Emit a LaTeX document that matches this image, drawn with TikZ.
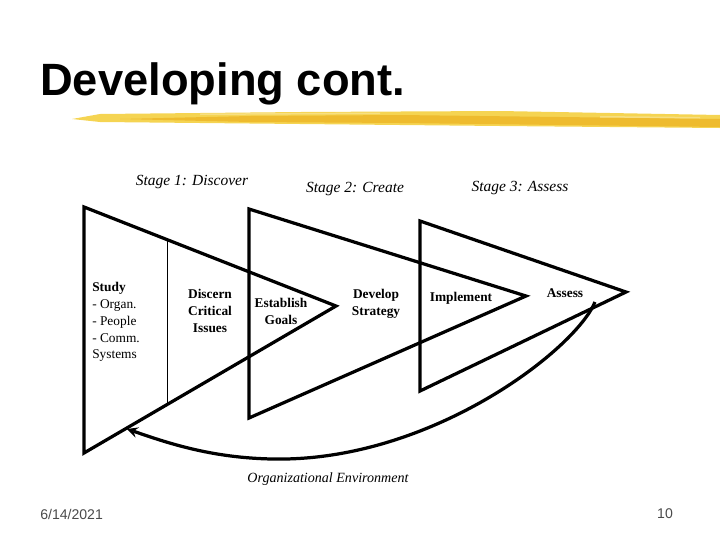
\documentclass[tikz,border=0pt]{standalone}
\usepackage{fontspec}
\setmainfont{Liberation Serif}
\setsansfont{Liberation Sans}
\usetikzlibrary{arrows,calc}

\definecolor{brushlight}{HTML}{F5D452}
\definecolor{brushdark}{HTML}{EDB526}
\definecolor{footgray}{HTML}{4A4A4A}

\tikzset{
  stagetri/.style={line width=2.3pt, line join=miter},
  stagelabel/.style={font=\fontsize{11}{13}\selectfont\itshape, inner sep=0pt},
  steptext/.style={font=\fontsize{9.5}{12}\selectfont\bfseries, align=center, inner sep=0pt},
  foottext/.style={font=\sffamily\fontsize{10}{12}\selectfont, text=footgray, inner sep=0pt}
}

\begin{document}
\begin{tikzpicture}[x=0.025cm, y=-0.025cm]
            \useasboundingbox (0,0) rectangle (720,540);
            % title and brush stroke
            \node[anchor=base west, inner sep=0pt, font=\sffamily\bfseries\fontsize{32.2}{36}\selectfont] (title) at (40,95) {Developing cont.};
            \fill[brushlight] (72,119) -- (100,114) -- (300,112) -- (500,111) -- (720,115) -- (720,128) -- (500,126) -- (300,124) -- (100,122) -- cycle;
            \fill[brushdark, opacity=0.8] (120,119) -- (250,116) -- (400,115) -- (720,119) -- (720,127) -- (400,123) -- (250,122) -- cycle;
            \fill[brushlight!60!white, opacity=0.7] (200,113.5) -- (380,112.5) -- (380,114) -- (200,115) -- cycle;
            \fill[brushlight!60!white, opacity=0.7] (600,116) -- (700,117) -- (700,118.5) -- (600,117.5) -- cycle;
            % the three stages
            \coordinate (t1a) at (84,207);  \coordinate (t1b) at (84,453);  \coordinate (t1c) at (336,306);
            \coordinate (t2a) at (249,209); \coordinate (t2b) at (249,418); \coordinate (t2c) at (526,296);
            \coordinate (t3a) at (420,221); \coordinate (t3b) at (420,391); \coordinate (t3c) at (626,292);
            \draw[stagetri] (t1a) -- (t1c) -- (t1b) -- cycle;
            \draw[stagetri] (t2a) -- (t2c) -- (t2b) -- cycle;
            \draw[stagetri] (t3a) -- (t3c) -- (t3b) -- cycle;
            \draw[line width=0.7pt] ($(t1a)!0.333!(t1c)$) -- ($(t1b)!0.333!(t1c)$);
            \node[stagelabel] (stage1) at (192,182) {Stage 1: Discover};
            \node[stagelabel] (stage2) at (355,189) {Stage 2: Create};
            \node[stagelabel] (stage3) at (520,188) {Stage 3: Assess};
            % steps
            \node[anchor=west, align=left, inner sep=0pt, font=\fontsize{9.5}{12}\selectfont] (study) at (92,322) {\textbf{Study}\\- Organ.\\- People\\- Comm.\\Systems};
            \node[steptext] (discern) at (210,311) {Discern\\Critical\\Issues};
            \node[steptext] (goals) at (281,311) {Establish\\Goals};
            \node[steptext] (strategy) at (376,304) {Develop\\Strategy};
            \node[steptext] (implement) at (461,298) {Implement};
            \node[steptext] (assess) at (565,293) {Assess};
            % feedback through the environment
            \coordinate (envstart) at (595,302);
            \coordinate (envend) at (127,429);
            \draw[line width=2.3pt, ->, >=stealth] (envstart) .. controls (575,350) and (430,462) .. (273,459) .. controls (210,458) and (165,442) .. (envend);
            \node[font=\fontsize{10}{12}\selectfont\itshape, inner sep=0pt] (env) at (328,479) {Organizational Environment};
            % footer
            \node[foottext, anchor=west] (date) at (40,514) {6/14/2021};
            \node[foottext] (page) at (665,514) {10};
        \end{tikzpicture}
\end{document}
